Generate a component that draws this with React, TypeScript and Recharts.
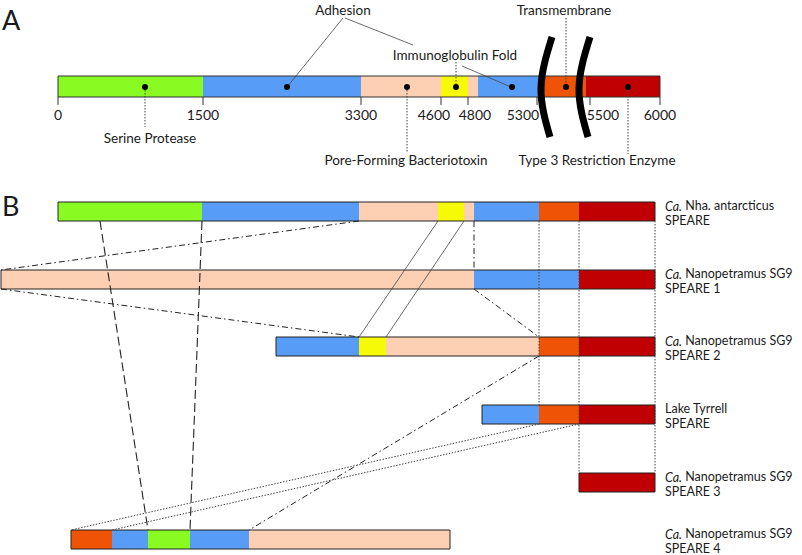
import React from 'react';
import {
  ComposedChart,
  XAxis,
  YAxis,
  ReferenceArea,
  ReferenceLine,
  Line,
  Scatter,
} from 'recharts';

// domain colours
const COLORS: Record<string, string> = {
  serine: '#8AFA23',
  adhesion: '#579DF8',
  pore: '#FDD0B4',
  ig: '#F6FA05',
  tm: '#EF5305',
  res: '#C00000',
};

// panel A: full-length SPEARE domain map (layout units = px on the page)
const aBounds = [58, 203, 361, 441, 468, 478, 542, 586, 660];
const aDomains = ['serine', 'adhesion', 'pore', 'ig', 'pore', 'adhesion', 'tm', 'res'];
const aTickPos = [58, 203, 361, 441, 468, 537, 590, 660];
const aTickLabels = ['0', '1500', '3300', '4600', '4800', '5300', '5500', '6000'];
// labels are nudged sideways where ticks sit close together
const aTickLabelX = [58, 203, 361, 434, 475, 523, 603, 660];
const aDotX = [145, 287, 407, 456, 512, 566, 628];

// panel B: homologues
const rowTops = [202, 270, 337, 405, 473, 530];
const rowBounds = [
  [58, 202, 359, 438, 464, 474, 539, 579, 655],
  [1, 474, 579, 655],
  [276, 359, 386, 539, 579, 655],
  [482, 539, 579, 655],
  [579, 655],
  [71, 112, 148, 190, 249, 450],
];
const rowDomains = [
  ['serine', 'adhesion', 'pore', 'ig', 'pore', 'adhesion', 'tm', 'res'],
  ['pore', 'adhesion', 'res'],
  ['adhesion', 'ig', 'pore', 'tm', 'res'],
  ['adhesion', 'tm', 'res'],
  ['res'],
  ['tm', 'adhesion', 'serine', 'adhesion', 'pore'],
];
const rowPrefix = ['Ca.', 'Ca.', 'Ca.', '', 'Ca.', 'Ca.'];
const rowName = [
  'Nha. antarcticus',
  'Nanopetramus SG9',
  'Nanopetramus SG9',
  'Lake Tyrrell',
  'Nanopetramus SG9',
  'Nanopetramus SG9',
];
const rowSub = ['SPEARE', 'SPEARE 1', 'SPEARE 2', 'SPEARE', 'SPEARE 3', 'SPEARE 4'];

// connectors: [x1, y1, x2, y2, style]
const connectors: [number, number, number, number, string][] = [
  // panel A callouts
  [343, 18, 287, 87, 'thin'],
  [345, 18, 413, 45, 'thin'],
  [462, 66, 511, 87, 'thin'],
  [456, 62, 456, 87, 'dot'],
  [566, 18, 566, 87, 'dot'],
  [145, 87, 145, 127, 'dot'],
  [407, 87, 407, 152, 'dot'],
  [628, 87, 628, 154, 'dot'],
  // panel B
  [100, 221, 148, 530, 'dash'],
  [202, 221, 190, 530, 'dash'],
  [359, 221, 1, 270, 'dashdot'],
  [1, 289, 359, 337, 'dashdot'],
  [474, 221, 474, 270, 'dashdot'],
  [474, 289, 539, 337, 'dashdot'],
  [539, 356, 249, 530, 'dashdot'],
  [438, 221, 359, 337, 'thin'],
  [464, 221, 386, 337, 'thin'],
  [539, 221, 539, 405, 'dot'],
  [579, 221, 579, 473, 'dot'],
  [655, 221, 655, 473, 'dot'],
  [539, 424, 71, 530, 'dot'],
  [579, 424, 112, 530, 'dot'],
];

const bracketLeft = [
  { x: 552, y: 37 },
  { x: 541, y: 88 },
  { x: 550, y: 137 },
];
const bracketRight = [
  { x: 590, y: 37 },
  { x: 579, y: 88 },
  { x: 588, y: 137 },
];

const calloutLabels = [
  { x: 343, y: 10, text: 'Adhesion' },
  { x: 455, y: 55, text: 'Immunoglobulin Fold' },
  { x: 564, y: 10, text: 'Transmembrane' },
  { x: 150, y: 138, text: 'Serine Protease' },
  { x: 406, y: 160, text: 'Pore-Forming Bacteriotoxin' },
  { x: 597, y: 160, text: 'Type 3 Restriction Enzyme' },
];

const LINE_STYLES: Record<string, { stroke: string; strokeWidth: number; strokeDasharray?: string }> = {
  thin: { stroke: '#444', strokeWidth: 0.8 },
  dot: { stroke: '#444', strokeWidth: 1, strokeDasharray: '1.5 1.5' },
  dash: { stroke: '#222', strokeWidth: 1.1, strokeDasharray: '9 4' },
  dashdot: { stroke: '#222', strokeWidth: 1, strokeDasharray: '6 3 1.5 3' },
};

const FONT = 'Lato, "Open Sans", sans-serif';
const BAR_H = 19;

function segments(bounds: number[], domains: string[], y1: number, y2: number, key: string) {
  return domains.map((d, i) => (
    <ReferenceArea
      key={`${key}-${i}`}
      x1={bounds[i]}
      x2={bounds[i + 1]}
      y1={y1}
      y2={y2}
      fill={COLORS[d]}
      fillOpacity={1}
      stroke="none"
      ifOverflow="visible"
    />
  ));
}

function TextShape(props: any) {
  const { cx, cy, payload } = props;
  return (
    <text
      x={cx}
      y={cy}
      textAnchor={payload.anchor || 'middle'}
      dominantBaseline="central"
      fontSize={payload.size || 13.5}
      fontFamily={FONT}
      fill="#1a1a1a"
    >
      {payload.prefix ? <tspan fontStyle="italic">{payload.prefix}</tspan> : null}
      {payload.prefix ? ' ' : ''}
      {payload.text}
    </text>
  );
}

export default function App() {
  const dots = aDotX.map((x) => ({ x, y: 87 }));

  const texts = [
    { x: 2, y: 19, text: 'A', size: 27, anchor: 'start' },
    { x: 2, y: 205, text: 'B', size: 27, anchor: 'start' },
    ...calloutLabels,
    ...aTickLabelX.map((x, i) => ({ x, y: 114, text: aTickLabels[i], size: 14 })),
    ...rowTops.flatMap((t, i) => [
      { x: 665, y: t + 3.5, prefix: rowPrefix[i], text: rowName[i], size: 12.5, anchor: 'start' },
      { x: 665, y: t + 18.5, text: rowSub[i], size: 12.5, anchor: 'start' },
    ]),
  ];

  return (
    <div style={{ position: 'absolute', left: 0, top: 0, background: '#fff', fontFamily: FONT }}>
      <ComposedChart width={802} height={555} margin={{ top: 0, right: 0, bottom: 0, left: 0 }}>
        <XAxis type="number" dataKey="x" domain={[0, 802]} hide allowDataOverflow />
        <YAxis type="number" domain={[0, 555]} reversed hide allowDataOverflow />

        {connectors.map(([x1, y1, x2, y2, s], i) => (
          <ReferenceLine
            key={`c-${i}`}
            segment={[{ x: x1, y: y1 }, { x: x2, y: y2 }]}
            ifOverflow="visible"
            {...LINE_STYLES[s]}
          />
        ))}

        {/* panel A tick marks */}
        {aTickPos.map((x, i) => (
          <ReferenceLine
            key={`t-${i}`}
            segment={[{ x, y: 97 }, { x, y: 105 }]}
            stroke="#333"
            strokeWidth={1}
            ifOverflow="visible"
          />
        ))}

        {segments(aBounds, aDomains, 76, 97, 'a')}
        <ReferenceArea
          x1={aBounds[0]}
          x2={aBounds[aBounds.length - 1]}
          y1={76}
          y2={97}
          fill="none"
          stroke="#333"
          strokeWidth={1}
          ifOverflow="visible"
        />

        {rowBounds.map((b, r) => segments(b, rowDomains[r], rowTops[r], rowTops[r] + BAR_H, `r${r}`))}
        {rowBounds.map((b, r) => (
          <ReferenceArea
            key={`o-${r}`}
            x1={b[0]}
            x2={b[b.length - 1]}
            y1={rowTops[r]}
            y2={rowTops[r] + BAR_H}
            fill="none"
            stroke="#222"
            strokeWidth={1}
            ifOverflow="visible"
          />
        ))}

        <Line
          data={bracketLeft}
          dataKey="y"
          type="natural"
          stroke="#000"
          strokeWidth={7}
          dot={false}
          activeDot={false}
          isAnimationActive={false}
        />
        <Line
          data={bracketRight}
          dataKey="y"
          type="natural"
          stroke="#000"
          strokeWidth={7}
          dot={false}
          activeDot={false}
          isAnimationActive={false}
        />

        <Scatter
          data={dots}
          dataKey="y"
          fill="#000"
          isAnimationActive={false}
          shape={(p: any) => <circle cx={p.cx} cy={p.cy} r={3} fill="#000" />}
        />
        <Scatter data={texts} dataKey="y" isAnimationActive={false} shape={TextShape} />
      </ComposedChart>
    </div>
  );
}
